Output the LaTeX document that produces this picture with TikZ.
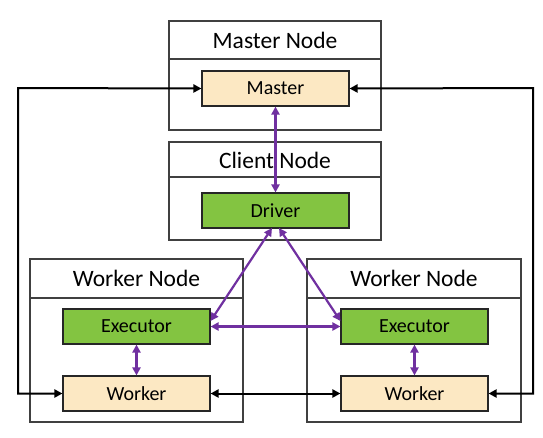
\documentclass[tikz,border=0pt]{standalone}
\usepackage{fontspec}
\setmainfont{Carlito}
\usetikzlibrary{arrows.meta}
\definecolor{beige}{HTML}{FCE8C3}
\definecolor{leaf}{HTML}{83C441}
\definecolor{plum}{HTML}{7030A0}
\definecolor{frame}{HTML}{404040}
\tikzset{
  hostbox/.style={draw=frame, line width=1.6pt, fill=white, inner sep=0pt},
  titletext/.style={font=\fontsize{23.5}{26}\selectfont, inner sep=0pt},
  procbox/.style={draw=black!85, line width=1.1pt, minimum width=147pt, minimum height=35pt, inner sep=0pt, font=\fontsize{20}{23}\selectfont},
  masterbox/.style={procbox, fill=beige},
  execbox/.style={procbox, fill=leaf},
  purplelink/.style={draw=plum, line width=2.2pt, {Triangle[length=8pt,width=8pt]}-{Triangle[length=8pt,width=8pt]}},
  blacklink/.style={draw=black, line width=2pt, {Triangle[length=8pt,width=8pt]}-{Triangle[length=8pt,width=8pt]}}
}
\begin{document}
\begin{tikzpicture}[x=1pt,y=-1pt]
\useasboundingbox (0,0) rectangle (543,437);
% host boxes
\node[hostbox, minimum width=212pt, minimum height=109pt] (mhost) at (275,75.5) {};
\draw[frame, line width=1.6pt] (169,59) -- (381,59);
\node[titletext] (mtitle) at (275,40) {Master Node};
\node[hostbox, minimum width=212pt, minimum height=98pt] (chost) at (275,191) {};
\draw[frame, line width=1.6pt] (169,177) -- (381,177);
\node[titletext] (ctitle) at (275,160) {Client Node};
\node[hostbox, minimum width=213pt, minimum height=163pt] (lhost) at (136.5,340.5) {};
\draw[frame, line width=1.6pt] (30,298) -- (243,298);
\node[titletext] (ltitle) at (136.5,278) {Worker Node};
\node[hostbox, minimum width=214pt, minimum height=163pt] (rhost) at (414,340.5) {};
\draw[frame, line width=1.6pt] (307,298) -- (521,298);
\node[titletext] (rtitle) at (414,278) {Worker Node};
% process boxes
\node[masterbox] (master) at (275.5,88.5) {Master};
\node[execbox] (driver) at (275.5,210.5) {Driver};
\node[execbox] (lexec) at (136.5,326.5) {Executor};
\node[masterbox] (lwork) at (136.5,393.5) {Worker};
\node[execbox] (rexec) at (414.5,326.5) {Executor};
\node[masterbox] (rwork) at (414.5,393.5) {Worker};
% coordinates
\coordinate (dl) at (272,228);
\coordinate (dr) at (279,228);
\coordinate (lul) at (18,88);
\coordinate (lll) at (18,393.5);
\coordinate (rur) at (533,88);
\coordinate (rll) at (533,393.5);
% purple links
\draw[purplelink] (master.south) -- (driver.north);
\draw[purplelink] (dl) -- (lexec.east |- 0,321);
\draw[purplelink] (dr) -- (rexec.west |- 0,321);
\draw[purplelink] (lexec.east) -- (rexec.west);
\draw[purplelink] (lexec.south) -- (lwork.north);
\draw[purplelink] (rexec.south) -- (rwork.north);
% black links
\draw[blacklink] (lwork.east) -- (rwork.west);
\draw[blacklink] (master.west) -- (lul) -- (lll) -- (lwork.west);
\draw[blacklink] (master.east) -- (rur) -- (rll) -- (rwork.east);
\end{tikzpicture}
\end{document}
